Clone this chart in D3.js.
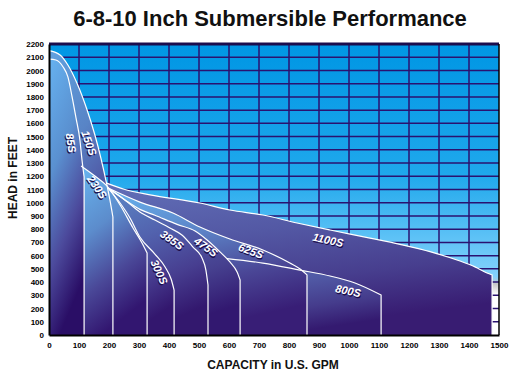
<!DOCTYPE html>
<html><head><meta charset="utf-8">
<script src="https://cdn.jsdelivr.net/npm/d3@7"></script>
<style>body{margin:0;background:#fff}svg{display:block}</style>
</head><body>
<svg id="c" width="516" height="382"></svg>
<script>
// ---- text ----
const titleText = "6-8-10 Inch Submersible Performance";
const xTitleText = "CAPACITY in U.S. GPM";
const yTitleText = "HEAD in FEET";
const xTickValues = d3.range(0, 1501, 100);
const yTickValues = d3.range(0, 2201, 100);

// ---- pump curves [GPM, head ft] (visible part of each curve) ----
const c85S   = [[0,2085],[23,2079],[47,2026],[63,1951],[77,1800],[90,1641],[103,1474],[110,1323],[117,1195]];
const c150S  = [[0,2150],[37,2117],[63,2041],[93,1905],[127,1701],[153,1512],[173,1338],[193,1134],[203,1021],[213,892]];
const c230S  = [[107,1278],[153,1202],[193,1127],[237,983],[280,809],[310,696],[327,620]];
const c300S  = [[197,1111],[237,998],[270,885],[303,741],[353,612],[387,514],[407,423],[417,340]];
const c385S  = [[197,1111],[253,1021],[303,930],[353,869],[403,809],[443,756],[480,665],[510,582],[523,491],[530,378]];
const c475S  = [[197,1111],[253,1021],[303,950],[353,905],[427,836],[487,786],[527,718],[570,628],[603,552],[627,476],[637,416]];
const c625S  = [[197,1111],[303,1005],[413,922],[503,817],[603,726],[713,643],[803,544],[837,499],[860,454]];
const c800S  = [[593,578],[713,544],[837,491],[937,446],[1020,393],[1107,302]];
const c1100S = [[190,1150],[253,1100],[337,1060],[503,998],[603,945],[713,907],[827,847],[937,794],[1070,733],[1170,685],[1270,630],[1370,559],[1420,515],[1460,469],[1477,454]];

const pumpNames  = ["1100S","800S","625S","475S","385S","300S","150S","230S","85S"];
const pumpCurves = [c1100S, c800S, c625S, c475S, c385S, c300S, c150S, c230S, c85S];

// label anchor in data units and rotation
const labelAt  = {"85S":[73,1452],"150S":[133,1452],"230S":[160,1119],"300S":[367,476],"385S":[410,718],"475S":[523,665],"625S":[673,635],"1100S":[930,718],"800S":[997,333]};
const labelRot = {"85S":80,"150S":70,"230S":55,"300S":65,"385S":35,"475S":35,"625S":20,"1100S":12,"800S":12};

const fillPal = {
  "85S":  ["#66b2f0","#5a90d0","#4c4a9c","#2a0e66"],
  "150S": ["#62a2e0","#5884c6","#4d4c9c","#2f136a"],
  "230S": ["#68b6f0","#5c8ccc","#4a4898","#321670"],
  "300S": ["#5c90cc","#5468b2","#483f92","#33176e"],
  "385S": ["#5c88c6","#5262ae","#473e90","#33186e"],
  "475S": ["#5c82c2","#525eaa","#46408f","#321870"],
  "625S": ["#68b6f0","#5c82c6","#4a4696","#381e76"],
  "800S": ["#5e72ba","#5058a4","#453c8c","#341a70"],
  "1100S":["#6270b8","#5358a4","#473e8e","#381c72"]
};

const svg = d3.select("#c");
const x = d3.scaleLinear([0,1500],[49,499]);
const y = d3.scaleLinear([0,2200],[335,44]);
const FONT = "'Liberation Sans', Arial, sans-serif";

const defs = svg.append("defs");
const bg = defs.append("linearGradient").attr("id","bg").attr("x1",0).attr("y1",0).attr("x2",0).attr("y2",1);
[[0,"#0096e4"],[0.45,"#1fa8ec"],[0.8,"#84d2fc"],[0.825,"#c8c8c8"],[0.86,"#ffffff"],[1,"#ffffff"]]
  .forEach(([o,c])=>bg.append("stop").attr("offset",o).attr("stop-color",c));

pumpNames.forEach(n=>{
  const g = defs.append("linearGradient").attr("id","g"+n).attr("x1",0).attr("y1",0).attr("x2",0.3).attr("y2",1);
  const p = fillPal[n];
  [0,0.4,0.72,1].forEach((o,k)=>g.append("stop").attr("offset",o).attr("stop-color",p[k]));
});

// title
svg.append("text").attr("x",270).attr("y",26).attr("text-anchor","middle")
  .attr("font-family",FONT).attr("font-weight","bold").attr("font-size",22).attr("fill","#111").text(titleText);

// plot background
svg.append("rect").attr("x",x(0)).attr("y",y(2200)).attr("width",x(1500)-x(0)).attr("height",y(0)-y(2200)).attr("fill","url(#bg)");

// grid
const grid = svg.append("g").attr("stroke","#2a1270").attr("stroke-width",1.5);
grid.selectAll(".gx").data(xTickValues.filter(v=>v>0&&v<1500)).join("line")
  .attr("x1",d=>x(d)).attr("x2",d=>x(d)).attr("y1",y(2200)).attr("y2",y(0));
grid.selectAll(".gy").data(yTickValues.filter(v=>v>0&&v<2200)).join("line")
  .attr("x1",x(0)).attr("x2",x(1500)).attr("y1",d=>y(d)).attr("y2",d=>y(d));

// regions
const line = d3.line().x(d=>x(d[0])).y(d=>y(d[1])).curve(d3.curveMonotoneX);
const regions = svg.append("g");
pumpNames.forEach((n,i)=>{
  const c = pumpCurves[i];
  const last = c[c.length-1], first = c[0];
  const d = line(c) + "L" + x(last[0]) + "," + y(0) + "L" + x(first[0]) + "," + y(0) + "Z";
  regions.append("path").attr("d",d).attr("fill","url(#g"+n+")");
});
// strokes
const strokes = svg.append("g").attr("fill","none").attr("stroke","#fff").attr("stroke-width",1.2);
pumpNames.forEach((n,i)=>{
  const c = pumpCurves[i];
  const last = c[c.length-1];
  strokes.append("path").attr("d", line(c) + "L" + x(last[0]) + "," + y(0));
});

// labels
const labs = svg.append("g").attr("font-family",FONT).attr("font-weight","bold").attr("font-style","italic").attr("font-size",11);
pumpNames.forEach(n=>{
  const [gx,gy] = labelAt[n];
  const t = labs.append("g").attr("transform",`translate(${x(gx)},${y(gy)}) rotate(${labelRot[n]})`);
  t.append("text").attr("x",1).attr("y",1.2).attr("text-anchor","middle").attr("dy","0.35em").attr("fill","#1a0b4a").text(n);
  t.append("text").attr("text-anchor","middle").attr("dy","0.35em").attr("fill","#fff").text(n);
});

// frame
svg.append("line").attr("x1",x(0)).attr("x2",x(1500)).attr("y1",y(2200)).attr("y2",y(2200)).attr("stroke","#1a0d4d").attr("stroke-width",3);
svg.append("line").attr("x1",x(1500)).attr("x2",x(1500)).attr("y1",y(2200)).attr("y2",y(0)).attr("stroke","#000").attr("stroke-width",1.5);

// axes
const ax = svg.append("g").attr("transform",`translate(0,${y(0)})`)
  .call(d3.axisBottom(x).tickValues(xTickValues).tickSize(0).tickPadding(7).tickFormat(d3.format("d")));
const ay = svg.append("g").attr("transform",`translate(${x(0)},0)`)
  .call(d3.axisLeft(y).tickValues(yTickValues).tickSize(0).tickPadding(5).tickFormat(d3.format("d")));
[ax,ay].forEach(a=>{
  a.select(".domain").attr("stroke","#000").attr("stroke-width",2);
  a.selectAll("text").attr("font-family",FONT).attr("font-size",8).attr("font-weight","bold").attr("fill","#000");
});

svg.append("text").attr("x",273).attr("y",369).attr("text-anchor","middle")
  .attr("font-family",FONT).attr("font-weight","bold").attr("font-size",12).attr("fill","#111").text(xTitleText);
svg.append("text").attr("transform","translate(17,178) rotate(-90)").attr("text-anchor","middle")
  .attr("font-family",FONT).attr("font-weight","bold").attr("font-size",12).attr("fill","#111").text(yTitleText);
</script>
</body></html>
